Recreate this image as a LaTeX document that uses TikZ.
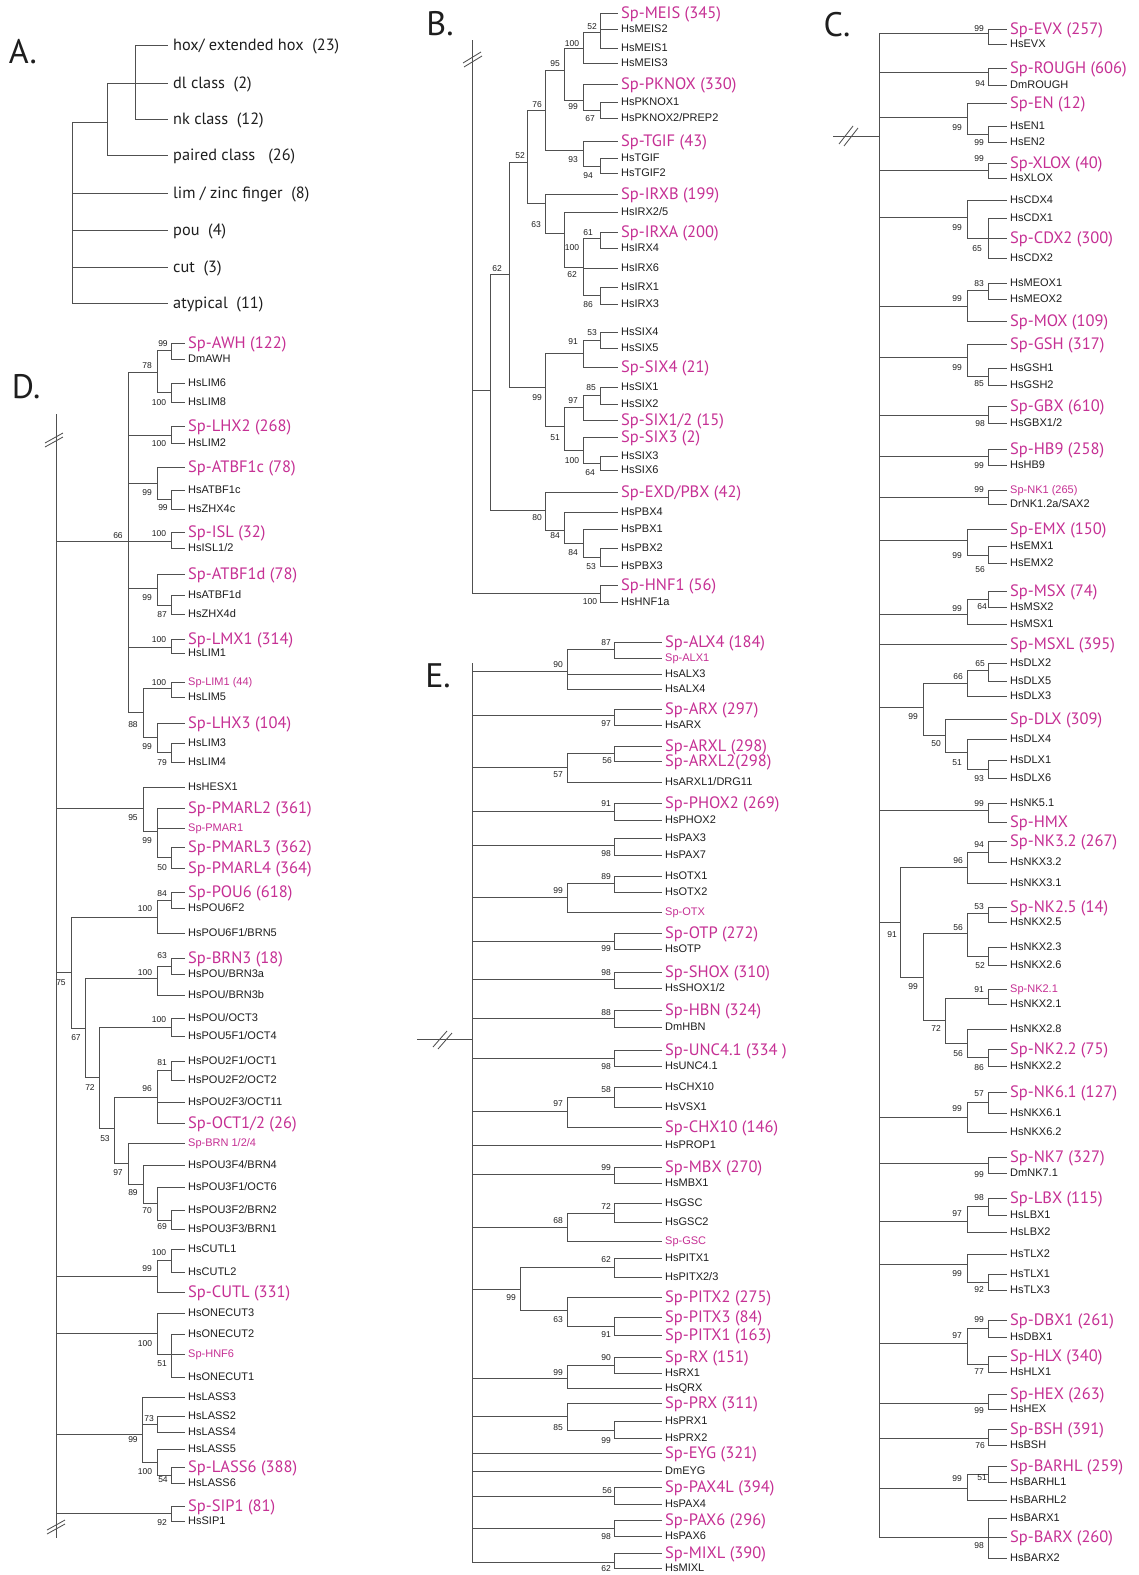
\documentclass[tikz,border=0pt]{standalone}
\usepackage{fontspec}
\newfontfamily\ptsans{PT Sans}
\newfontfamily\libsans{Liberation Sans}
\definecolor{mag}{RGB}{198,48,148}
\definecolor{lc}{RGB}{80,80,80}
\definecolor{tc}{RGB}{30,30,30}
\newcounter{bsc}
\newcommand\lf[5]{\node[#4] (#2) at (\xe,#3) {#5}; \draw[br] (#1) |- (#2.west);}
\newcommand\ed[2]{\draw[br] (#1) |- (#2);}
\newcommand\bs[3]{\stepcounter{bsc}\node[bsl] (bs\arabic{bsc}) at (#1,#2) {#3};}
\tikzset{
 br/.style={draw=lc, line width=0.85pt},
 lab/.style={anchor=west, inner xsep=3pt, inner ysep=0pt, text depth=0pt},
 sp/.style={lab, text=mag, font=\ptsans\fontsize{16.5}{16.5}\selectfont, text height=11.5pt},
 hs/.style={lab, text=tc, font=\libsans\fontsize{11}{11}\selectfont, text height=7.9pt},
 sps/.style={hs, text=mag},
 bsl/.style={inner sep=0pt, text=tc, font=\libsans\fontsize{8.5}{8.5}\selectfont, text height=6.1pt, text depth=0pt},
 al/.style={lab, inner xsep=5pt, text=tc, font=\ptsans\fontsize{16.3}{16.3}\selectfont, text height=11.4pt},
 pl/.style={inner sep=0pt, text=tc, font=\ptsans\fontsize{34}{34}\selectfont},
}
\begin{document}
\begin{tikzpicture}[x=1pt,y=-1pt]
\fill[white] (0,0) rectangle (1139,1575);
\useasboundingbox (0,0) rectangle (1139,1575);
% panel letters
\node[pl] (pA) at (23,52) {A.};
\node[pl] (pB) at (440,24) {B.};
\node[pl] (pC) at (837,25) {C.};
\node[pl] (pD) at (26,387) {D.};
\node[pl] (pE) at (438,676) {E.};

% ================= PANEL A
\def\xe{168}
\coordinate (aR) at (72,122);
\coordinate (aN) at (107,122);
\coordinate (aH) at (135,45);
\ed{aR}{aN}
\lf{aH}{a1}{45}{al}{hox/ extended hox\ \ (23)}
\lf{aN}{a2}{83}{al}{dl class\ \ (2)}
\lf{aH}{a3}{119}{al}{nk class\ \ (12)}
\lf{aN}{a4}{155}{al}{paired class\ \ \ (26)}
\lf{aR}{a5}{193}{al}{lim / zinc finger\ \ (8)}
\lf{aR}{a6}{230}{al}{pou\ \ (4)}
\lf{aR}{a7}{267}{al}{cut\ \ (3)}
\lf{aR}{a8}{303}{al}{atypical\ \ (11)}

% ================= PANEL B
\def\xe{618}
\coordinate (bR) at (472,40);
\coordinate (bA) at (490,390);
\coordinate (bB) at (509,274);
\coordinate (bC) at (527,162);
\coordinate (bD) at (545,110);
\coordinate (bE) at (564,70);
\coordinate (bF) at (583,48);
\coordinate (bG) at (600,32);
\coordinate (bH) at (583,100);
\coordinate (bI) at (600,110);
\coordinate (bJ) at (583,150);
\coordinate (bK) at (600,166);
\coordinate (bL) at (545,203);
\coordinate (bM) at (564,233);
\coordinate (bN) at (583,267);
\coordinate (bO) at (600,238);
\coordinate (bP) at (600,295);
\coordinate (bQ) at (545,387);
\coordinate (bQa) at (583,353);
\coordinate (bQb) at (600,340);
\coordinate (bQc) at (564,426);
\coordinate (bQd) at (583,407);
\coordinate (bQe) at (600,395);
\coordinate (bQf) at (583,450);
\coordinate (bQg) at (600,463);
\coordinate (bS) at (545,510);
\coordinate (bSa) at (564,530);
\coordinate (bSb) at (583,543);
\coordinate (bSc) at (600,557);
\coordinate (bT) at (600,593);
\ed{bR}{bA} \ed{bR}{bT}
\ed{bA}{bB} \ed{bA}{bS}
\ed{bB}{bC} \ed{bB}{bQ}
\ed{bC}{bD} \ed{bC}{bL}
\ed{bD}{bE} \ed{bD}{bJ}
\ed{bE}{bF} \ed{bE}{bH}
\ed{bF}{bG} \ed{bH}{bI} \ed{bJ}{bK}
\ed{bL}{bM} \ed{bM}{bN} \ed{bN}{bO} \ed{bN}{bP}
\ed{bQ}{bQa} \ed{bQa}{bQb} \ed{bQ}{bQc} \ed{bQc}{bQd} \ed{bQd}{bQe} \ed{bQc}{bQf} \ed{bQf}{bQg}
\ed{bS}{bSa} \ed{bSa}{bSb} \ed{bSb}{bSc}
\lf{bG}{b1}{13}{sp}{Sp-MEIS (345)}
\lf{bG}{b2}{29}{hs}{HsMEIS2}
\lf{bG}{b3}{48}{hs}{HsMEIS1}
\lf{bF}{b4}{63}{hs}{HsMEIS3}
\lf{bH}{b5}{84}{sp}{Sp-PKNOX (330)}
\lf{bI}{b6}{102}{hs}{HsPKNOX1}
\lf{bI}{b7}{118}{hs}{HsPKNOX2/PREP2}
\lf{bJ}{b8}{141}{sp}{Sp-TGIF (43)}
\lf{bK}{b9}{158}{hs}{HsTGIF}
\lf{bK}{b10}{173}{hs}{HsTGIF2}
\lf{bL}{b11}{194}{sp}{Sp-IRXB (199)}
\lf{bM}{b12}{212}{hs}{HsIRX2/5}
\lf{bO}{b13}{232}{sp}{Sp-IRXA (200)}
\lf{bO}{b14}{248}{hs}{HsIRX4}
\lf{bN}{b15}{268}{hs}{HsIRX6}
\lf{bP}{b16}{287}{hs}{HsIRX1}
\lf{bP}{b17}{304}{hs}{HsIRX3}
\lf{bQb}{b18}{332}{hs}{HsSIX4}
\lf{bQb}{b19}{348}{hs}{HsSIX5}
\lf{bQa}{b20}{367}{sp}{Sp-SIX4 (21)}
\lf{bQe}{b21}{387}{hs}{HsSIX1}
\lf{bQe}{b22}{404}{hs}{HsSIX2}
\lf{bQd}{b23}{420}{sp}{Sp-SIX1/2 (15)}
\lf{bQf}{b24}{437}{sp}{Sp-SIX3 (2)}
\lf{bQg}{b25}{456}{hs}{HsSIX3}
\lf{bQg}{b26}{470}{hs}{HsSIX6}
\lf{bS}{b27}{492}{sp}{Sp-EXD/PBX (42)}
\lf{bSa}{b28}{512}{hs}{HsPBX4}
\lf{bSb}{b29}{529}{hs}{HsPBX1}
\lf{bSc}{b30}{548}{hs}{HsPBX2}
\lf{bSc}{b31}{566}{hs}{HsPBX3}
\lf{bT}{b32}{585}{sp}{Sp-HNF1 (56)}
\lf{bT}{b33}{602}{hs}{HsHNF1a}
\draw[br] (463,63) -- (481,52);
\draw[br] (464,67) -- (482,56);
\bs{592}{26}{52} \bs{572}{43}{100} \bs{555}{63}{95} \bs{537}{104}{76} \bs{573}{106}{99}
\bs{590}{118}{67} \bs{573}{159}{93} \bs{588}{175}{94} \bs{520}{155}{52} \bs{536}{224}{63}
\bs{588}{232}{61} \bs{572}{247}{100} \bs{572}{274}{62} \bs{588}{304}{86} \bs{497}{268}{62}
\bs{592}{332}{53} \bs{573}{341}{91} \bs{537}{397}{99} \bs{591}{387}{85} \bs{573}{400}{97}
\bs{555}{437}{51} \bs{572}{460}{100} \bs{590}{472}{64} \bs{537}{517}{80} \bs{555}{535}{84}
\bs{573}{552}{84} \bs{591}{566}{53} \bs{590}{601}{100}

% ================= PANEL C
\def\xe{1007}
\coordinate (cR) at (879,33);
\coordinate (cS) at (833,136);
\draw[br] (cS) -- (cS -| cR);
\draw[br] (839,144) -- (853,126);
\draw[br] (844,146) -- (858,128);
\coordinate (cn1) at (988,33);
\coordinate (cn2) at (988,72);
\coordinate (cn3) at (967,117);
\coordinate (cn3a) at (988,134);
\coordinate (cn4) at (988,170);
\coordinate (cn5) at (967,217);
\coordinate (cn5a) at (988,238);
\coordinate (cn6) at (967,306);
\coordinate (cn6a) at (988,290);
\coordinate (cn7) at (967,357);
\coordinate (cn7a) at (988,376);
\coordinate (cn8) at (988,415);
\coordinate (cn9) at (988,456);
\coordinate (cn10) at (988,497);
\coordinate (cn11) at (967,540);
\coordinate (cn11a) at (988,555);
\coordinate (cn12) at (967,614);
\coordinate (cn12a) at (988,599);
\coordinate (cn13) at (923,707);
\coordinate (cn13a) at (967,683);
\coordinate (cn13b) at (988,670);
\coordinate (cn13c) at (945,735);
\coordinate (cn13d) at (967,752);
\coordinate (cn13e) at (988,769);
\coordinate (cn14) at (988,810);
\coordinate (cn15) at (900,922);
\coordinate (cn15a) at (967,867);
\coordinate (cn15b) at (988,852);
\coordinate (cn15c) at (923,977);
\coordinate (cn15d) at (967,933);
\coordinate (cn15e) at (988,913);
\coordinate (cn15f) at (988,956);
\coordinate (cn15g) at (945,1020);
\coordinate (cn15h) at (988,998);
\coordinate (cn15i) at (967,1043);
\coordinate (cn15j) at (988,1057);
\coordinate (cn16) at (967,1117);
\coordinate (cn16a) at (988,1102);
\coordinate (cn17) at (988,1163);
\coordinate (cn18) at (967,1221);
\coordinate (cn18a) at (988,1206);
\coordinate (cn19) at (967,1264);
\coordinate (cn19a) at (988,1282);
\coordinate (cn20) at (967,1343);
\coordinate (cn20a) at (988,1328);
\coordinate (cn20b) at (988,1364);
\coordinate (cn21) at (988,1403);
\coordinate (cn22) at (988,1438);
\coordinate (cn23) at (967,1488);
\coordinate (cn23a) at (988,1474);
\coordinate (cn24) at (988,1537);
\foreach \n in {cn1,cn2,cn3,cn4,cn5,cn6,cn7,cn8,cn9,cn10,cn11,cn12,cn13,cn14,cn15,cn16,cn17,cn18,cn19,cn20,cn21,cn22,cn23,cn24}{\ed{cR}{\n}}
\ed{cn3}{cn3a} \ed{cn5}{cn5a} \ed{cn6}{cn6a} \ed{cn7}{cn7a} \ed{cn11}{cn11a} \ed{cn12}{cn12a}
\ed{cn13}{cn13a} \ed{cn13}{cn13c} \ed{cn13a}{cn13b} \ed{cn13c}{cn13d} \ed{cn13d}{cn13e}
\ed{cn15}{cn15a} \ed{cn15}{cn15c} \ed{cn15a}{cn15b} \ed{cn15c}{cn15d} \ed{cn15c}{cn15g}
\ed{cn15d}{cn15e} \ed{cn15d}{cn15f} \ed{cn15g}{cn15h} \ed{cn15g}{cn15i} \ed{cn15i}{cn15j}
\ed{cn16}{cn16a} \ed{cn18}{cn18a} \ed{cn19}{cn19a} \ed{cn20}{cn20a} \ed{cn20}{cn20b} \ed{cn23}{cn23a}
\lf{cn1}{cl1}{29}{sp}{Sp-EVX (257)}
\lf{cn1}{cl2}{44}{hs}{HsEVX}
\lf{cn2}{cl3}{68}{sp}{Sp-ROUGH (606)}
\lf{cn2}{cl4}{85}{hs}{DmROUGH}
\lf{cn3}{cl5}{103}{sp}{Sp-EN (12)}
\lf{cn3a}{cl6}{126}{hs}{HsEN1}
\lf{cn3a}{cl7}{142}{hs}{HsEN2}
\lf{cn4}{cl8}{163}{sp}{Sp-XLOX (40)}
\lf{cn4}{cl9}{178}{hs}{HsXLOX}
\lf{cn5}{cl10}{200}{hs}{HsCDX4}
\lf{cn5a}{cl11}{218}{hs}{HsCDX1}
\lf{cn5a}{cl12}{238}{sp}{Sp-CDX2 (300)}
\lf{cn5a}{cl13}{258}{hs}{HsCDX2}
\lf{cn6a}{cl14}{283}{hs}{HsMEOX1}
\lf{cn6a}{cl15}{299}{hs}{HsMEOX2}
\lf{cn6}{cl16}{321}{sp}{Sp-MOX (109)}
\lf{cn7}{cl17}{344}{sp}{Sp-GSH (317)}
\lf{cn7a}{cl18}{368}{hs}{HsGSH1}
\lf{cn7a}{cl19}{385}{hs}{HsGSH2}
\lf{cn8}{cl20}{406}{sp}{Sp-GBX (610)}
\lf{cn8}{cl21}{423}{hs}{HsGBX1/2}
\lf{cn9}{cl22}{449}{sp}{Sp-HB9 (258)}
\lf{cn9}{cl23}{465}{hs}{HsHB9}
\lf{cn10}{cl24}{490}{sps}{Sp-NK1 (265)}
\lf{cn10}{cl25}{504}{hs}{DrNK1.2a/SAX2}
\lf{cn11}{cl26}{529}{sp}{Sp-EMX (150)}
\lf{cn11a}{cl27}{546}{hs}{HsEMX1}
\lf{cn11a}{cl28}{563}{hs}{HsEMX2}
\lf{cn12a}{cl29}{591}{sp}{Sp-MSX (74)}
\lf{cn12a}{cl30}{607}{hs}{HsMSX2}
\lf{cn12}{cl31}{624}{hs}{HsMSX1}
\lf{cR}{cl32}{644}{sp}{Sp-MSXL (395)}
\lf{cn13b}{cl33}{663}{hs}{HsDLX2}
\lf{cn13b}{cl34}{681}{hs}{HsDLX5}
\lf{cn13a}{cl35}{696}{hs}{HsDLX3}
\lf{cn13c}{cl36}{719}{sp}{Sp-DLX (309)}
\lf{cn13d}{cl37}{739}{hs}{HsDLX4}
\lf{cn13e}{cl38}{760}{hs}{HsDLX1}
\lf{cn13e}{cl39}{778}{hs}{HsDLX6}
\lf{cn14}{cl40}{803}{hs}{HsNK5.1}
\lf{cn14}{cl41}{822}{sp}{Sp-HMX}
\lf{cn15b}{cl42}{841}{sp}{Sp-NK3.2 (267)}
\lf{cn15b}{cl43}{862}{hs}{HsNKX3.2}
\lf{cn15a}{cl44}{883}{hs}{HsNKX3.1}
\lf{cn15e}{cl45}{907}{sp}{Sp-NK2.5 (14)}
\lf{cn15e}{cl46}{922}{hs}{HsNKX2.5}
\lf{cn15f}{cl47}{947}{hs}{HsNKX2.3}
\lf{cn15f}{cl48}{965}{hs}{HsNKX2.6}
\lf{cn15h}{cl49}{989}{sps}{Sp-NK2.1}
\lf{cn15h}{cl50}{1004}{hs}{HsNKX2.1}
\lf{cn15i}{cl51}{1029}{hs}{HsNKX2.8}
\lf{cn15j}{cl52}{1049}{sp}{Sp-NK2.2 (75)}
\lf{cn15j}{cl53}{1066}{hs}{HsNKX2.2}
\lf{cn16a}{cl54}{1092}{sp}{Sp-NK6.1 (127)}
\lf{cn16a}{cl55}{1113}{hs}{HsNKX6.1}
\lf{cn16}{cl56}{1132}{hs}{HsNKX6.2}
\lf{cn17}{cl57}{1157}{sp}{Sp-NK7 (327)}
\lf{cn17}{cl58}{1173}{hs}{DmNK7.1}
\lf{cn18a}{cl59}{1198}{sp}{Sp-LBX (115)}
\lf{cn18a}{cl60}{1215}{hs}{HsLBX1}
\lf{cn18}{cl61}{1232}{hs}{HsLBX2}
\lf{cn19}{cl62}{1254}{hs}{HsTLX2}
\lf{cn19a}{cl63}{1274}{hs}{HsTLX1}
\lf{cn19a}{cl64}{1290}{hs}{HsTLX3}
\lf{cn20a}{cl65}{1320}{sp}{Sp-DBX1 (261)}
\lf{cn20a}{cl66}{1337}{hs}{HsDBX1}
\lf{cn20b}{cl67}{1356}{sp}{Sp-HLX (340)}
\lf{cn20b}{cl68}{1372}{hs}{HsHLX1}
\lf{cn21}{cl69}{1394}{sp}{Sp-HEX (263)}
\lf{cn21}{cl70}{1409}{hs}{HsHEX}
\lf{cn22}{cl71}{1429}{sp}{Sp-BSH (391)}
\lf{cn22}{cl72}{1445}{hs}{HsBSH}
\lf{cn23a}{cl73}{1466}{sp}{Sp-BARHL (259)}
\lf{cn23a}{cl74}{1482}{hs}{HsBARHL1}
\lf{cn23}{cl75}{1500}{hs}{HsBARHL2}
\lf{cn24}{cl76}{1518}{hs}{HsBARX1}
\lf{cn24}{cl77}{1537}{sp}{Sp-BARX (260)}
\lf{cn24}{cl78}{1558}{hs}{HsBARX2}
\bs{979}{28}{99} \bs{980}{83}{94} \bs{957}{127}{99} \bs{979}{142}{99} \bs{979}{158}{99}
\bs{957}{227}{99} \bs{977}{248}{65} \bs{979}{283}{83} \bs{957}{298}{99} \bs{957}{367}{99}
\bs{979}{383}{85} \bs{980}{423}{98} \bs{979}{465}{99} \bs{979}{489}{99} \bs{957}{555}{99}
\bs{980}{569}{56} \bs{957}{608}{99} \bs{982}{606}{64} \bs{980}{663}{65} \bs{958}{676}{66}
\bs{913}{716}{99} \bs{936}{743}{50} \bs{957}{762}{51} \bs{979}{778}{93} \bs{979}{803}{99}
\bs{979}{844}{94} \bs{958}{860}{96} \bs{892}{934}{91} \bs{979}{906}{53} \bs{958}{927}{56}
\bs{980}{965}{52} \bs{913}{986}{99} \bs{979}{989}{91} \bs{936}{1028}{72} \bs{958}{1053}{56}
\bs{979}{1067}{86} \bs{979}{1093}{57} \bs{957}{1108}{99} \bs{979}{1174}{99} \bs{979}{1197}{98}
\bs{957}{1213}{97} \bs{957}{1273}{99} \bs{979}{1289}{92} \bs{979}{1319}{99} \bs{957}{1335}{97}
\bs{979}{1371}{77} \bs{979}{1410}{99} \bs{980}{1445}{76} \bs{957}{1478}{99} \bs{982}{1477}{51}
\bs{979}{1545}{98}

% ================= PANEL D
\def\xe{185}
\coordinate (dR) at (56,414);
\coordinate (dBot) at (56,1538);
\draw[br] (dR) -- (dBot);
\draw[br] (45,443) -- (63,433);
\draw[br] (45,447) -- (63,437);
\draw[br] (47,1530) -- (65,1520);
\draw[br] (47,1534) -- (65,1524);
\coordinate (dn1) at (128,541);
\coordinate (dn1a) at (157,372);
\coordinate (dn1b) at (171,350);
\coordinate (dn1c) at (171,392);
\coordinate (dn1d) at (171,435);
\coordinate (dn1e) at (157,483);
\coordinate (dn1f) at (171,499);
\coordinate (dn1g) at (171,541);
\coordinate (dn1h) at (157,588);
\coordinate (dn1i) at (171,605);
\coordinate (dn1j) at (171,647);
\coordinate (dn1k) at (143,712);
\coordinate (dn1l) at (171,688);
\coordinate (dn1m) at (157,737);
\coordinate (dn1n) at (171,752);
\coordinate (dn2) at (143,808);
\coordinate (dn2a) at (157,831);
\coordinate (dn2b) at (171,857);
\coordinate (dn3) at (71,972);
\coordinate (dn3a) at (157,917);
\coordinate (dn3b) at (171,900);
\coordinate (dn3c) at (85,1028);
\coordinate (dn3d) at (157,978);
\coordinate (dn3e) at (171,966);
\coordinate (dn3f) at (99,1077);
\coordinate (dn3g) at (171,1027);
\coordinate (dn3h) at (114,1128);
\coordinate (dn3i) at (157,1097);
\coordinate (dn3j) at (171,1070);
\coordinate (dn3k) at (128,1163);
\coordinate (dn3l) at (143,1184);
\coordinate (dn3m) at (157,1203);
\coordinate (dn3n) at (171,1220);
\coordinate (dn4) at (157,1276);
\coordinate (dn4a) at (171,1260);
\coordinate (dn5) at (157,1333);
\coordinate (dn5a) at (171,1354);
\coordinate (dn6) at (142,1434);
\coordinate (dn6a) at (157,1424);
\coordinate (dn6b) at (157,1462);
\coordinate (dn6c) at (171,1475);
\coordinate (dn7) at (171,1513);
\foreach \n in {dn1,dn2,dn3,dn4,dn5,dn6,dn7}{\ed{dR}{\n}}
\foreach \n in {dn1a,dn1d,dn1e,dn1g,dn1h,dn1j,dn1k}{\ed{dn1}{\n}}
\ed{dn1a}{dn1b} \ed{dn1a}{dn1c} \ed{dn1e}{dn1f} \ed{dn1h}{dn1i} \ed{dn1k}{dn1l} \ed{dn1k}{dn1m} \ed{dn1m}{dn1n}
\ed{dn2}{dn2a} \ed{dn2a}{dn2b}
\ed{dn3}{dn3a} \ed{dn3}{dn3c} \ed{dn3a}{dn3b} \ed{dn3c}{dn3d} \ed{dn3c}{dn3f} \ed{dn3d}{dn3e}
\ed{dn3f}{dn3g} \ed{dn3f}{dn3h} \ed{dn3h}{dn3i} \ed{dn3h}{dn3k} \ed{dn3i}{dn3j} \ed{dn3k}{dn3l} \ed{dn3l}{dn3m} \ed{dn3m}{dn3n}
\ed{dn4}{dn4a} \ed{dn5}{dn5a} \ed{dn6}{dn6a} \ed{dn6}{dn6b} \ed{dn6b}{dn6c}
\lf{dn1b}{dl1}{343}{sp}{Sp-AWH (122)}
\lf{dn1b}{dl2}{359}{hs}{DmAWH}
\lf{dn1c}{dl3}{383}{hs}{HsLIM6}
\lf{dn1c}{dl4}{402}{hs}{HsLIM8}
\lf{dn1d}{dl5}{426}{sp}{Sp-LHX2 (268)}
\lf{dn1d}{dl6}{443}{hs}{HsLIM2}
\lf{dn1e}{dl7}{467}{sp}{Sp-ATBF1c (78)}
\lf{dn1f}{dl8}{490}{hs}{HsATBF1c}
\lf{dn1f}{dl9}{509}{hs}{HsZHX4c}
\lf{dn1g}{dl10}{532}{sp}{Sp-ISL (32)}
\lf{dn1g}{dl11}{548}{hs}{HsISL1/2}
\lf{dn1h}{dl12}{574}{sp}{Sp-ATBF1d (78)}
\lf{dn1i}{dl13}{595}{hs}{HsATBF1d}
\lf{dn1i}{dl14}{614}{hs}{HsZHX4d}
\lf{dn1j}{dl15}{639}{sp}{Sp-LMX1 (314)}
\lf{dn1j}{dl16}{653}{hs}{HsLIM1}
\lf{dn1l}{dl17}{682}{sps}{Sp-LIM1 (44)}
\lf{dn1l}{dl18}{697}{hs}{HsLIM5}
\lf{dn1m}{dl19}{723}{sp}{Sp-LHX3 (104)}
\lf{dn1n}{dl20}{743}{hs}{HsLIM3}
\lf{dn1n}{dl21}{762}{hs}{HsLIM4}
\lf{dn2}{dl22}{787}{hs}{HsHESX1}
\lf{dn2a}{dl23}{808}{sp}{Sp-PMARL2 (361)}
\lf{dn2a}{dl24}{828}{sps}{Sp-PMAR1}
\lf{dn2b}{dl25}{847}{sp}{Sp-PMARL3 (362)}
\lf{dn2b}{dl26}{868}{sp}{Sp-PMARL4 (364)}
\lf{dn3b}{dl27}{892}{sp}{Sp-POU6 (618)}
\lf{dn3b}{dl28}{908}{hs}{HsPOU6F2}
\lf{dn3a}{dl29}{933}{hs}{HsPOU6F1/BRN5}
\lf{dn3e}{dl30}{958}{sp}{Sp-BRN3 (18)}
\lf{dn3e}{dl31}{974}{hs}{HsPOU/BRN3a}
\lf{dn3d}{dl32}{995}{hs}{HsPOU/BRN3b}
\lf{dn3g}{dl33}{1018}{hs}{HsPOU/OCT3}
\lf{dn3g}{dl34}{1036}{hs}{HsPOU5F1/OCT4}
\lf{dn3j}{dl35}{1061}{hs}{HsPOU2F1/OCT1}
\lf{dn3j}{dl36}{1080}{hs}{HsPOU2F2/OCT2}
\lf{dn3i}{dl37}{1102}{hs}{HsPOU2F3/OCT11}
\lf{dn3i}{dl38}{1123}{sp}{Sp-OCT1/2 (26)}
\lf{dn3k}{dl39}{1143}{sps}{Sp-BRN 1/2/4}
\lf{dn3l}{dl40}{1165}{hs}{HsPOU3F4/BRN4}
\lf{dn3m}{dl41}{1187}{hs}{HsPOU3F1/OCT6}
\lf{dn3n}{dl42}{1210}{hs}{HsPOU3F2/BRN2}
\lf{dn3n}{dl43}{1229}{hs}{HsPOU3F3/BRN1}
\lf{dn4a}{dl44}{1249}{hs}{HsCUTL1}
\lf{dn4a}{dl45}{1272}{hs}{HsCUTL2}
\lf{dn4}{dl46}{1292}{sp}{Sp-CUTL (331)}
\lf{dn5}{dl47}{1313}{hs}{HsONECUT3}
\lf{dn5a}{dl48}{1334}{hs}{HsONECUT2}
\lf{dn5a}{dl49}{1354}{sps}{Sp-HNF6}
\lf{dn5a}{dl50}{1377}{hs}{HsONECUT1}
\lf{dn6}{dl51}{1397}{hs}{HsLASS3}
\lf{dn6a}{dl52}{1416}{hs}{HsLASS2}
\lf{dn6a}{dl53}{1432}{hs}{HsLASS4}
\lf{dn6b}{dl54}{1449}{hs}{HsLASS5}
\lf{dn6c}{dl55}{1467}{sp}{Sp-LASS6 (388)}
\lf{dn6c}{dl56}{1483}{hs}{HsLASS6}
\lf{dn7}{dl57}{1506}{sp}{Sp-SIP1 (81)}
\lf{dn7}{dl58}{1521}{hs}{HsSIP1}
\bs{118}{535}{66} \bs{147}{365}{78} \bs{163}{343}{99} \bs{159}{402}{100} \bs{159}{443}{100}
\bs{147}{492}{99} \bs{163}{507}{99} \bs{159}{533}{100} \bs{147}{597}{99} \bs{162}{614}{87}
\bs{159}{639}{100} \bs{159}{682}{100} \bs{133}{724}{88} \bs{147}{746}{99} \bs{162}{762}{79}
\bs{133}{817}{95} \bs{147}{840}{99} \bs{162}{867}{50} \bs{162}{893}{84} \bs{145}{908}{100}
\bs{61}{982}{75} \bs{162}{955}{63} \bs{145}{972}{100} \bs{76}{1037}{67} \bs{159}{1019}{100}
\bs{90}{1087}{72} \bs{162}{1062}{81} \bs{147}{1088}{96} \bs{105}{1138}{53} \bs{118}{1172}{97}
\bs{133}{1192}{89} \bs{147}{1210}{70} \bs{162}{1226}{69} \bs{159}{1252}{100} \bs{147}{1268}{99}
\bs{145}{1343}{100} \bs{162}{1363}{51} \bs{149}{1418}{73} \bs{133}{1439}{99} \bs{145}{1471}{100}
\bs{163}{1479}{54} \bs{162}{1522}{92}

% ================= PANEL E
\def\xe{662}
\coordinate (eR) at (472,663);
\coordinate (eS) at (417,1039);
\draw[br] (eS) -- (eS -| eR);
\draw[br] (433,1047) -- (447,1031);
\draw[br] (438,1049) -- (452,1033);
\coordinate (en1) at (567,671);
\coordinate (en1a) at (614,649);
\coordinate (en2) at (614,715);
\coordinate (en3) at (567,767);
\coordinate (en3a) at (614,753);
\coordinate (en4) at (614,811);
\coordinate (en5) at (614,845);
\coordinate (en6) at (567,897);
\coordinate (en6a) at (614,883);
\coordinate (en7) at (614,941);
\coordinate (en8) at (614,979);
\coordinate (en9) at (614,1018);
\coordinate (en10) at (614,1058);
\coordinate (en11) at (567,1111);
\coordinate (en11a) at (614,1097);
\coordinate (en12) at (614,1174);
\coordinate (en13) at (567,1227);
\coordinate (en13a) at (614,1213);
\coordinate (en14) at (520,1289);
\coordinate (en14a) at (614,1267);
\coordinate (en14b) at (567,1310);
\coordinate (en14c) at (614,1326);
\coordinate (en15) at (567,1378);
\coordinate (en15a) at (614,1365);
\coordinate (en16) at (567,1416);
\coordinate (en16a) at (614,1430);
\coordinate (en17) at (614,1496);
\coordinate (en18) at (614,1528);
\coordinate (en19) at (614,1562);
\foreach \n in {en1,en2,en3,en4,en5,en6,en7,en8,en9,en10,en11,en12,en13,en14,en15,en16,en17,en18,en19}{\ed{eR}{\n}}
\ed{en1}{en1a} \ed{en3}{en3a} \ed{en6}{en6a} \ed{en11}{en11a} \ed{en13}{en13a}
\ed{en14}{en14a} \ed{en14}{en14b} \ed{en14b}{en14c} \ed{en15}{en15a} \ed{en16}{en16a}
\lf{en1a}{el1}{642}{sp}{Sp-ALX4 (184)}
\lf{en1a}{el2}{658}{sps}{Sp-ALX1}
\lf{en1}{el3}{674}{hs}{HsALX3}
\lf{en1}{el4}{689}{hs}{HsALX4}
\lf{en2}{el5}{709}{sp}{Sp-ARX (297)}
\lf{en2}{el6}{725}{hs}{HsARX}
\lf{en3a}{el7}{746}{sp}{Sp-ARXL (298)}
\lf{en3a}{el8}{761}{sp}{Sp-ARXL2(298)}
\lf{en3}{el9}{782}{hs}{HsARXL1/DRG11}
\lf{en4}{el10}{803}{sp}{Sp-PHOX2 (269)}
\lf{en4}{el11}{820}{hs}{HsPHOX2}
\lf{en5}{el12}{838}{hs}{HsPAX3}
\lf{en5}{el13}{855}{hs}{HsPAX7}
\lf{en6a}{el14}{876}{hs}{HsOTX1}
\lf{en6a}{el15}{892}{hs}{HsOTX2}
\lf{en6}{el16}{912}{sps}{Sp-OTX}
\lf{en7}{el17}{933}{sp}{Sp-OTP (272)}
\lf{en7}{el18}{949}{hs}{HsOTP}
\lf{en8}{el19}{972}{sp}{Sp-SHOX (310)}
\lf{en8}{el20}{988}{hs}{HsSHOX1/2}
\lf{en9}{el21}{1010}{sp}{Sp-HBN (324)}
\lf{en9}{el22}{1027}{hs}{DmHBN}
\lf{en10}{el23}{1050}{sp}{Sp-UNC4.1 (334 )}
\lf{en10}{el24}{1066}{hs}{HsUNC4.1}
\lf{en11a}{el25}{1087}{hs}{HsCHX10}
\lf{en11a}{el26}{1107}{hs}{HsVSX1}
\lf{en11}{el27}{1127}{sp}{Sp-CHX10 (146)}
\lf{eR}{el28}{1145}{hs}{HsPROP1}
\lf{en12}{el29}{1167}{sp}{Sp-MBX (270)}
\lf{en12}{el30}{1183}{hs}{HsMBX1}
\lf{en13a}{el31}{1203}{hs}{HsGSC}
\lf{en13a}{el32}{1222}{hs}{HsGSC2}
\lf{en13}{el33}{1241}{sps}{Sp-GSC}
\lf{en14a}{el34}{1258}{hs}{HsPITX1}
\lf{en14a}{el35}{1277}{hs}{HsPITX2/3}
\lf{en14b}{el36}{1297}{sp}{Sp-PITX2 (275)}
\lf{en14c}{el37}{1317}{sp}{Sp-PITX3 (84)}
\lf{en14c}{el38}{1335}{sp}{Sp-PITX1 (163)}
\lf{en15a}{el39}{1357}{sp}{Sp-RX (151)}
\lf{en15a}{el40}{1373}{hs}{HsRX1}
\lf{en15}{el41}{1388}{hs}{HsQRX}
\lf{en16}{el42}{1403}{sp}{Sp-PRX (311)}
\lf{en16a}{el43}{1421}{hs}{HsPRX1}
\lf{en16a}{el44}{1438}{hs}{HsPRX2}
\lf{eR}{el45}{1453}{sp}{Sp-EYG (321)}
\lf{eR}{el46}{1471}{hs}{DmEYG}
\lf{en17}{el47}{1487}{sp}{Sp-PAX4L (394)}
\lf{en17}{el48}{1504}{hs}{HsPAX4}
\lf{en18}{el49}{1520}{sp}{Sp-PAX6 (296)}
\lf{en18}{el50}{1536}{hs}{HsPAX6}
\lf{en19}{el51}{1553}{sp}{Sp-MIXL (390)}
\lf{en19}{el52}{1568}{hs}{HsMIXL}
\bs{606}{642}{87} \bs{558}{664}{90} \bs{606}{723}{97} \bs{607}{760}{56} \bs{558}{774}{57}
\bs{606}{803}{91} \bs{606}{853}{98} \bs{606}{876}{89} \bs{558}{890}{99} \bs{606}{948}{99}
\bs{606}{972}{98} \bs{606}{1012}{88} \bs{606}{1066}{98} \bs{606}{1089}{58} \bs{558}{1103}{97}
\bs{606}{1167}{99} \bs{606}{1206}{72} \bs{558}{1220}{68} \bs{606}{1259}{62} \bs{511}{1297}{99}
\bs{558}{1319}{63} \bs{606}{1334}{91} \bs{606}{1357}{90} \bs{558}{1372}{99} \bs{558}{1427}{85}
\bs{606}{1440}{99} \bs{607}{1490}{56} \bs{606}{1536}{98} \bs{606}{1568}{62}
\end{tikzpicture}
\end{document}
